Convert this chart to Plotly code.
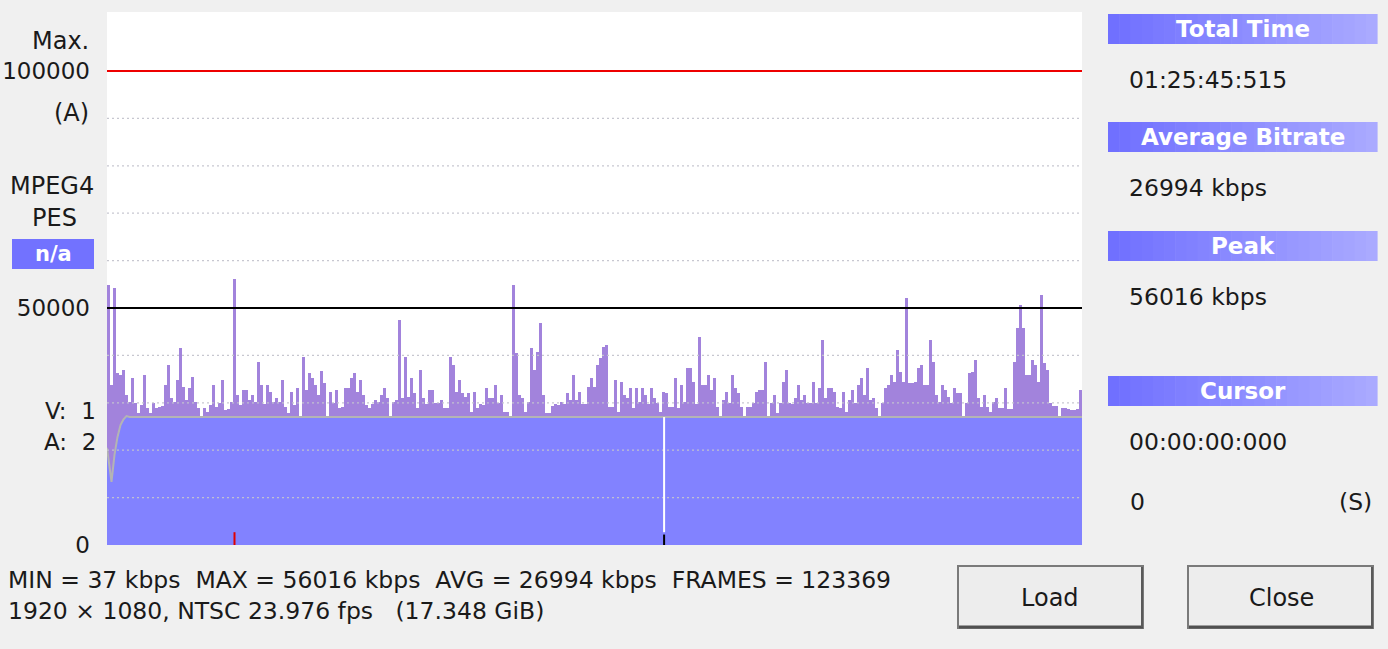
import plotly.graph_objects as go

# bitrate per sample (kbps) from left to right
BITRATE = [
    54900, 33800, 54200, 36300, 35900, 36900, 31600, 30200, 35200, 30000,
    27900, 29500, 35900, 28900, 27800, 30000, 28900, 29100, 29300, 33800,
    38000, 31000, 30200, 34800, 41600, 33300, 30600, 33100, 35400, 30200,
    29000, 26000, 28900, 28100, 29500, 33800, 29100, 30000, 34800, 28500,
    28700, 30200, 56016, 31600, 29500, 32700, 32700, 30600, 31600, 30200,
    38600, 33800, 29800, 33800, 32300, 30200, 31000, 30200, 34800, 29100,
    27900, 32300, 29500, 33100, 26000, 39700, 32700, 36300, 35200, 33800,
    31600, 36700, 34200, 26200, 32300, 30000, 32700, 28900, 29100, 33100,
    33100, 35200, 36300, 32300, 34800, 31600, 29500, 28900, 29800, 30500,
    30200, 31600, 33100, 31000, 26000, 30200, 30600, 47500, 31000, 39700,
    31200, 35200, 32000, 29000, 36900, 31000, 29800, 32700, 32700, 30000,
    30000, 30600, 28900, 28900, 39700, 38000, 32300, 34800, 32100, 31200,
    32100, 28100, 32300, 28900, 29800, 29500, 33100, 31000, 31000, 33800,
    30000, 31600, 28100, 28100, 26500, 54900, 40500, 31600, 31000, 28100,
    30200, 41600, 36900, 40700, 46800, 31600, 27900, 27900, 29300, 29800,
    29500, 30200, 29800, 32100, 30600, 35900, 30600, 32300, 29800, 29800,
    33300, 35200, 33300, 38000, 39500, 41800, 42200, 29100, 29100, 34800,
    28100, 34400, 31600, 31000, 33100, 28900, 33100, 30200, 33100, 31600,
    29800, 33100, 31000, 30000, 28100, 32300, 32100, 29100, 29100, 35200,
    28900, 33800, 30200, 37300, 37300, 34400, 29800, 43900, 33800, 33800,
    35900, 32700, 35200, 29100, 26000, 30600, 32300, 30000, 35900, 33100,
    32100, 29100, 26000, 29100, 29100, 30000, 32300, 32700, 32700, 38600,
    26000, 30000, 31600, 27900, 30000, 34400, 36900, 30000, 29800, 31000,
    33800, 30600, 31600, 30000, 30000, 34400, 30000, 33100, 43300, 31000,
    33100, 33100, 32300, 29100, 28900, 32300, 28100, 30600, 32700, 30000,
    33800, 35200, 31600, 37300, 30600, 31000, 28900, 26000, 30000, 33100,
    33800, 35900, 34400, 41100, 36500, 34400, 52100, 34200, 34200, 34400,
    37300, 37900, 33800, 33800, 43300, 38600, 31600, 30200, 33800, 32700,
    31200, 30000, 33100, 32100, 32100, 26000, 30000, 36300, 36500, 39000,
    31000, 29100, 31600, 29100, 28100, 30200, 31000, 28900, 28900, 33100,
    28700, 28700, 38600, 45800, 50600, 45800, 35900, 35900, 39000, 38000,
    34400, 52700, 38400, 36900, 30000, 29300, 29300, 26000, 29000, 29000,
    28700, 28500, 28500, 28700, 32700,
]
SAMPLES = list(range(len(BITRATE)))

# running average (top of the blue area, grey line)
AVG_X = [-0.5, 1, 2, 3, 4, 5, 6, 7, 324.5]
AVG_Y = [20500, 13300, 19000, 22800, 25300, 26500, 27200, 27000, 26994]

Y_TICKS = [0, 50000, 100000]
Y_TICK_TEXT = ["0", "50000", "100000"]
GRID_LEVELS = [10000, 20000, 30000, 40000, 60000, 70000, 80000, 90000]
MAX_LEVEL = 100000
HALF_LEVEL = 50000
Y_TOP = 112450
CURSOR_POS = 185.2

PANEL_TITLES = ["Total Time", "Average Bitrate", "Peak", "Cursor"]
PANEL_VALUES = ["01:25:45:515", "26994 kbps", "56016 kbps", "00:00:00:000"]
STATS_LINE1 = "MIN = 37 kbps\u00a0 MAX = 56016 kbps\u00a0 AVG = 26994 kbps\u00a0 FRAMES = 123369"
STATS_LINE2 = "1920 \u00d7 1080, NTSC 23.976 fps\u00a0\u00a0 (17.348 GiB)"

PURPLE = "#a283dc"
BLUE = "#8282ff"
FONT = "DejaVu Sans"
TXT = "#1a1a1a"

# pixel -> paper helpers (plot area is x 107..1082, y 12..545)
L, R, T, B = 107, 1082, 12, 545
def fx(p):
    return (p - L) / (R - L)
def fy(p):
    return (B - p) / (B - T)

fig = go.Figure()
fig.add_trace(go.Bar(x=SAMPLES, y=BITRATE, width=1,
                     marker=dict(color=PURPLE, line=dict(width=0)),
                     hoverinfo="skip"))
fig.add_trace(go.Scatter(x=AVG_X, y=AVG_Y, mode="lines", fill="tozeroy",
                         fillcolor=BLUE, line=dict(color="#b4b4b4", width=2),
                         hoverinfo="skip"))

shapes = []
for g in GRID_LEVELS:
    shapes.append(dict(type="line", xref="paper", x0=0, x1=1, y0=g, y1=g, layer="above",
                       line=dict(color="rgba(196,196,206,0.95)", width=1.3, dash="2px,3px")))
shapes.append(dict(type="line", xref="paper", x0=0, x1=1, y0=MAX_LEVEL, y1=MAX_LEVEL,
                   layer="above", line=dict(color="#ee0000", width=2)))
shapes.append(dict(type="line", xref="paper", x0=0, x1=1, y0=HALF_LEVEL, y1=HALF_LEVEL,
                   layer="above", line=dict(color="#000000", width=2)))
peak_i = BITRATE.index(max(BITRATE))
shapes.append(dict(type="line", x0=peak_i, x1=peak_i, y0=0, y1=2700, layer="above",
                   line=dict(color="#e00000", width=2)))
shapes.append(dict(type="line", x0=CURSOR_POS, x1=CURSOR_POS, y0=2700, y1=AVG_Y[-1],
                   layer="above", line=dict(color="#ffffff", width=2)))
shapes.append(dict(type="line", x0=CURSOR_POS, x1=CURSOR_POS, y0=0, y1=2200, layer="above",
                   line=dict(color="#000000", width=2)))

# n/a box
shapes.append(dict(type="rect", xref="paper", yref="paper", x0=fx(12), x1=fx(94),
                   y0=fy(269), y1=fy(239), fillcolor="#7272ff", line=dict(width=0)))

# right panel header bars with a left-to-right gradient
bars_y = [(14, 44), (122, 152), (231, 261), (376, 406)]
n_sl = 24
for y0, y1 in bars_y:
    for k in range(n_sl):
        a = 1108 + (1377 - 1108) * k / n_sl
        b = 1108 + (1377 - 1108) * (k + 1) / n_sl + 0.6
        t = k / (n_sl - 1)
        c = int(112 + 58 * t)
        shapes.append(dict(type="rect", xref="paper", yref="paper", x0=fx(a), x1=fx(b),
                           y0=fy(y1), y1=fy(y0), fillcolor=f"rgb({c},{c},255)",
                           line=dict(width=0)))

# buttons
for x0, x1 in [(958, 1143), (1188, 1373)]:
    shapes.append(dict(type="rect", xref="paper", yref="paper", x0=fx(x0), x1=fx(x1),
                       y0=fy(628), y1=fy(566), fillcolor="#ededed",
                       line=dict(color="#7a7a7a", width=2)))
    shapes.append(dict(type="line", xref="paper", yref="paper", x0=fx(x0 + 1), x1=fx(x1),
                       y0=fy(627), y1=fy(627), line=dict(color="#505050", width=3)))
    shapes.append(dict(type="line", xref="paper", yref="paper", x0=fx(x1 - 1), x1=fx(x1 - 1),
                       y0=fy(627), y1=fy(567), line=dict(color="#5a5a5a", width=2)))

ann = []
def text(s, x, y, anchor="left", size=24, color=TXT, bold=False):
    if bold:
        s = "<b>" + s + "</b>"
    ann.append(dict(text=s, xref="paper", yref="paper", x=fx(x), y=fy(y),
                    xanchor=anchor, yanchor="middle", showarrow=False,
                    font=dict(family=FONT, size=size, color=color)))

text("Max.", 91, 41, "right")
text("(A)", 91, 113, "right")
text("MPEG4", 52, 186, "center")
text("PES", 54, 218, "center")
text("n/a", 53, 254, "center", size=21, color="white", bold=True)
text("V:\u00a0 1", 98, 411, "right", size=23)
text("A:\u00a0 2", 98, 442, "right", size=23)

for (y0, y1), title, val in zip(bars_y, PANEL_TITLES, PANEL_VALUES):
    text(title, 1243, (y0 + y1) / 2, "center", size=23, color="white", bold=True)
    text(val, 1127, y1 + 36, "left", size=23.5)
text("0", 1128, 502, "left", size=23.5)
text("(S)", 1374, 502, "right", size=23.5)

text(STATS_LINE1, 6, 580, "left", size=23.5)
text(STATS_LINE2, 6, 611, "left", size=23.5)
text("Load", 1050, 598, "center")
text("Close", 1281, 598, "center")

fig.update_layout(
    width=1388, height=649,
    margin=dict(l=L, r=1388 - R, t=T, b=649 - B, pad=0),
    paper_bgcolor="#f0f0f0",
    plot_bgcolor="#ffffff",
    showlegend=False,
    bargap=0,
    font=dict(family=FONT, color=TXT),
    shapes=shapes,
    annotations=ann,
    xaxis=dict(range=[-0.5, len(BITRATE) - 0.5], visible=False, fixedrange=True,
               automargin=False),
    yaxis=dict(range=[0, Y_TOP], tickvals=Y_TICKS, ticktext=Y_TICK_TEXT,
               showgrid=False, zeroline=False, showline=False, ticks="",
               ticklabelstandoff=16, tickfont=dict(family=FONT, size=23, color=TXT),
               fixedrange=True, automargin=False),
)

fig.write_html("out.html", config={"displayModeBar": False},
               post_script="document.body.style.margin='0';"
                           "document.body.style.background='#f0f0f0';")
